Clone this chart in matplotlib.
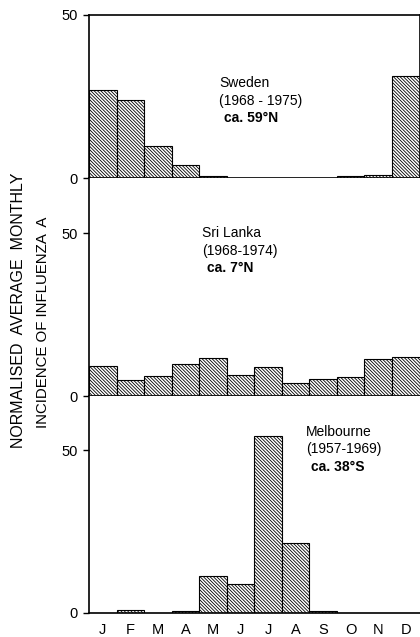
import matplotlib
matplotlib.use("Agg")
import matplotlib.pyplot as plt
import numpy as np

plt.rcParams['font.family'] = ['Liberation Sans', 'DejaVu Sans']
plt.rcParams['hatch.linewidth'] = 0.6

months = ['J', 'F', 'M', 'A', 'M', 'J', 'J', 'A', 'S', 'O', 'N', 'D']
sweden = [27, 24, 9.7, 4.0, 0.5, 0, 0, 0, 0, 0.5, 0.8, 31.3]
sri_lanka = [9.2, 5.0, 6.0, 9.8, 11.7, 6.3, 8.8, 4.0, 5.2, 5.9, 11.5, 12.1]
melbourne = [0, 0.8, 0, 0.5, 11.3, 8.9, 54.4, 21.5, 0.6, 0, 0, 0]

labels = [
    ("Sweden", "(1968 - 1975)", "ca. 59°N"),
    ("Sri Lanka", "(1968-1974)", "ca. 7°N"),
    ("Melbourne", "(1957-1969)", "ca. 38°S"),
]
# text anchor in pixels (x, y of first line)
label_pos = [(219, 83), (202, 233), (306, 432)]

W, H = 420, 637
fig = plt.figure(figsize=(W / 100, H / 100), dpi=100)

def box(top, bottom):
    return [89 / W, 1 - bottom / H, 330.5 / W, (bottom - top) / H]

ax1 = fig.add_axes(box(15, 178))
ax2 = fig.add_axes(box(178, 396))
ax3 = fig.add_axes(box(396, 613))

x = np.arange(12)
for ax, vals, top in [(ax1, sweden, 50), (ax2, sri_lanka, 66.9), (ax3, melbourne, 66.7)]:
    ax.bar(x, vals, width=1, align='edge', color='white', edgecolor='black',
           linewidth=0.8, hatch='\\' * 10)
    ax.set_xlim(0, 12)
    ax.set_ylim(0, top)
    ax.set_yticks([0, 50])
    ax.tick_params(axis='y', length=4, width=1, pad=4, labelsize=10.5)
    ax.set_xticks([])
    for s in ['left', 'bottom']:
        ax.spines[s].set_linewidth(1.2)
    ax.spines['top'].set_visible(False)
    ax.spines['right'].set_visible(False)

ax1.spines['top'].set_visible(True)
ax1.spines['right'].set_visible(True)
ax1.spines['top'].set_linewidth(1.2)
ax1.spines['right'].set_linewidth(1.2)

ax3.set_xticks(x + 0.5)
ax3.set_xticklabels(months)
ax3.tick_params(axis='x', length=0, pad=7, labelsize=10.5)

for (name, years, lat), (px, py) in zip(labels, label_pos):
    fig.text(px / W, 1 - py / H, name, fontsize=10, va='center', ha='left')
    fig.text(px / W, 1 - (py + 17.5) / H, years, fontsize=10, va='center', ha='left')
    fig.text((px + 5) / W, 1 - (py + 35) / H, lat, fontsize=10, va='center',
             ha='left', fontweight='bold')

fig.text(19 / W, 1 - 310 / H, "NORMALISED  AVERAGE  MONTHLY", rotation=90,
         fontsize=11.5, va='center', ha='center')
fig.text(43.5 / W, 1 - 322 / H, "INCIDENCE OF INFLUENZA  A", rotation=90,
         fontsize=10.8, va='center', ha='center')

fig.savefig("out.png", dpi=100)
